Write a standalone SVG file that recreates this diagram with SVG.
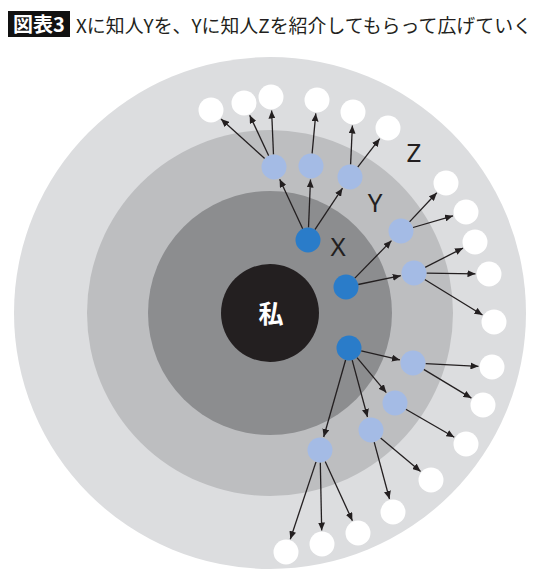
<svg xmlns="http://www.w3.org/2000/svg" width="540" height="580" viewBox="0 0 540 580">
<style>
.t{font-family:"Noto Sans CJK JP","Noto Sans",sans-serif}
.x{fill:#2a7cc9}
.y{fill:#a4bbe5}
.z{fill:#ffffff}
.lbl{font-family:"Noto Sans","Noto Sans CJK JP",sans-serif;font-size:26px;fill:#231f20;text-anchor:middle}
#connectors line{stroke:#231f20;stroke-width:1.3;marker-end:url(#ah)}
</style>
<defs>
<marker id="ah" markerUnits="userSpaceOnUse" markerWidth="8" markerHeight="7" refX="8" refY="3.5" orient="auto">
<path d="M0,0 L8,3.5 L0,7 z" fill="#231f20"/>
</marker>
</defs>
<rect width="540" height="580" fill="#ffffff"/>
<g id="title">
<rect x="8" y="11" width="62" height="26" fill="#111111"/>
<text class="t" x="39" y="31.5" font-size="20" font-weight="bold" fill="#ffffff" text-anchor="middle">図表3</text>
<text class="t" x="76" y="32.5" font-size="18.8" fill="#231f20" textLength="456" lengthAdjust="spacingAndGlyphs">Xに知人Yを、Yに知人Zを紹介してもらって広げていく</text>
</g>
<g id="rings">
<circle cx="270" cy="313" r="256" fill="#dcdddf"/>
<circle cx="270" cy="313" r="183" fill="#bdbec0"/>
<circle cx="270" cy="313" r="122" fill="#8c8d8f"/>
</g>
<g id="me">
<circle cx="270" cy="313" r="49" fill="#231f20"/>
<text class="t" x="271" y="323" font-size="25" font-weight="bold" fill="#ffffff" text-anchor="middle">私</text>
</g>
<g id="labels">
<text class="lbl" x="338" y="256">X</text>
<text class="lbl" x="375" y="212">Y</text>
<text class="lbl" x="414" y="162">Z</text>
</g>
<g id="connectors">
<line x1="302.7" y1="228.7" x2="279.7" y2="179.2"/>
<line x1="308.5" y1="227.5" x2="310.5" y2="179.5"/>
<line x1="314.9" y1="229.6" x2="342.5" y2="188.2"/>
<line x1="264.7" y1="158.6" x2="221.0" y2="119.1"/>
<line x1="268.7" y1="155.7" x2="249.7" y2="115.2"/>
<line x1="273.5" y1="154.5" x2="271.6" y2="110.5"/>
<line x1="312.1" y1="153.6" x2="315.8" y2="113.4"/>
<line x1="350.6" y1="164.5" x2="352.4" y2="125.5"/>
<line x1="357.7" y1="167.1" x2="379.7" y2="138.7"/>
<line x1="354.8" y1="278.1" x2="391.5" y2="240.6"/>
<line x1="358.2" y1="284.5" x2="400.8" y2="275.7"/>
<line x1="409.5" y1="221.9" x2="436.8" y2="192.8"/>
<line x1="413.0" y1="227.5" x2="453.0" y2="215.8"/>
<line x1="425.1" y1="267.3" x2="463.0" y2="248.1"/>
<line x1="426.5" y1="273.2" x2="475.5" y2="273.8"/>
<line x1="424.7" y1="279.5" x2="482.5" y2="315.0"/>
<line x1="361.2" y1="350.9" x2="399.9" y2="359.9"/>
<line x1="357.0" y1="357.6" x2="386.3" y2="392.6"/>
<line x1="352.2" y1="360.1" x2="367.5" y2="417.0"/>
<line x1="345.6" y1="360.0" x2="323.7" y2="437.0"/>
<line x1="425.5" y1="363.6" x2="478.5" y2="366.3"/>
<line x1="423.7" y1="369.4" x2="471.4" y2="398.1"/>
<line x1="405.8" y1="409.3" x2="454.3" y2="437.3"/>
<line x1="380.6" y1="438.0" x2="420.6" y2="471.4"/>
<line x1="374.2" y1="442.1" x2="389.5" y2="499.0"/>
<line x1="325.2" y1="461.4" x2="352.4" y2="520.7"/>
<line x1="320.3" y1="462.5" x2="321.7" y2="530.5"/>
<line x1="316.0" y1="461.9" x2="290.3" y2="539.2"/>
</g>
<g id="x-nodes">
<circle id="X1" class="x" cx="308" cy="240" r="12.5"/>
<circle id="X2" class="x" cx="346" cy="287" r="12.5"/>
<circle id="X3" class="x" cx="349" cy="348" r="12.5"/>
</g>
<g id="y-nodes">
<circle id="Y1" class="y" cx="274" cy="167" r="12.5"/>
<circle id="Y2" class="y" cx="311" cy="166" r="12.5"/>
<circle id="Y3" class="y" cx="350" cy="177" r="12.5"/>
<circle id="Y4" class="y" cx="401" cy="231" r="12.5"/>
<circle id="Y5" class="y" cx="414" cy="273" r="12.5"/>
<circle id="Y6" class="y" cx="413" cy="363" r="12.5"/>
<circle id="Y7" class="y" cx="395" cy="403" r="12.5"/>
<circle id="Y8" class="y" cx="371" cy="430" r="12.5"/>
<circle id="Y9" class="y" cx="320" cy="450" r="12.5"/>
</g>
<g id="z-nodes">
<circle id="Z1" class="z" cx="211" cy="110" r="12.5"/>
<circle id="Z2" class="z" cx="244" cy="103" r="12.5"/>
<circle id="Z3" class="z" cx="271" cy="97" r="12.5"/>
<circle id="Z4" class="z" cx="317" cy="100" r="12.5"/>
<circle id="Z5" class="z" cx="353" cy="112" r="12.5"/>
<circle id="Z6" class="z" cx="388" cy="128" r="12.5"/>
<circle id="Z7" class="z" cx="446" cy="183" r="12.5"/>
<circle id="Z8" class="z" cx="466" cy="212" r="12.5"/>
<circle id="Z9" class="z" cx="475" cy="242" r="12.5"/>
<circle id="Z10" class="z" cx="489" cy="274" r="12.5"/>
<circle id="Z11" class="z" cx="494" cy="322" r="12.5"/>
<circle id="Z12" class="z" cx="492" cy="367" r="12.5"/>
<circle id="Z13" class="z" cx="483" cy="405" r="12.5"/>
<circle id="Z14" class="z" cx="466" cy="444" r="12.5"/>
<circle id="Z15" class="z" cx="431" cy="480" r="12.5"/>
<circle id="Z16" class="z" cx="393" cy="512" r="12.5"/>
<circle id="Z17" class="z" cx="358" cy="533" r="12.5"/>
<circle id="Z18" class="z" cx="322" cy="544" r="12.5"/>
<circle id="Z19" class="z" cx="286" cy="552" r="12.5"/>
</g>
</svg>
